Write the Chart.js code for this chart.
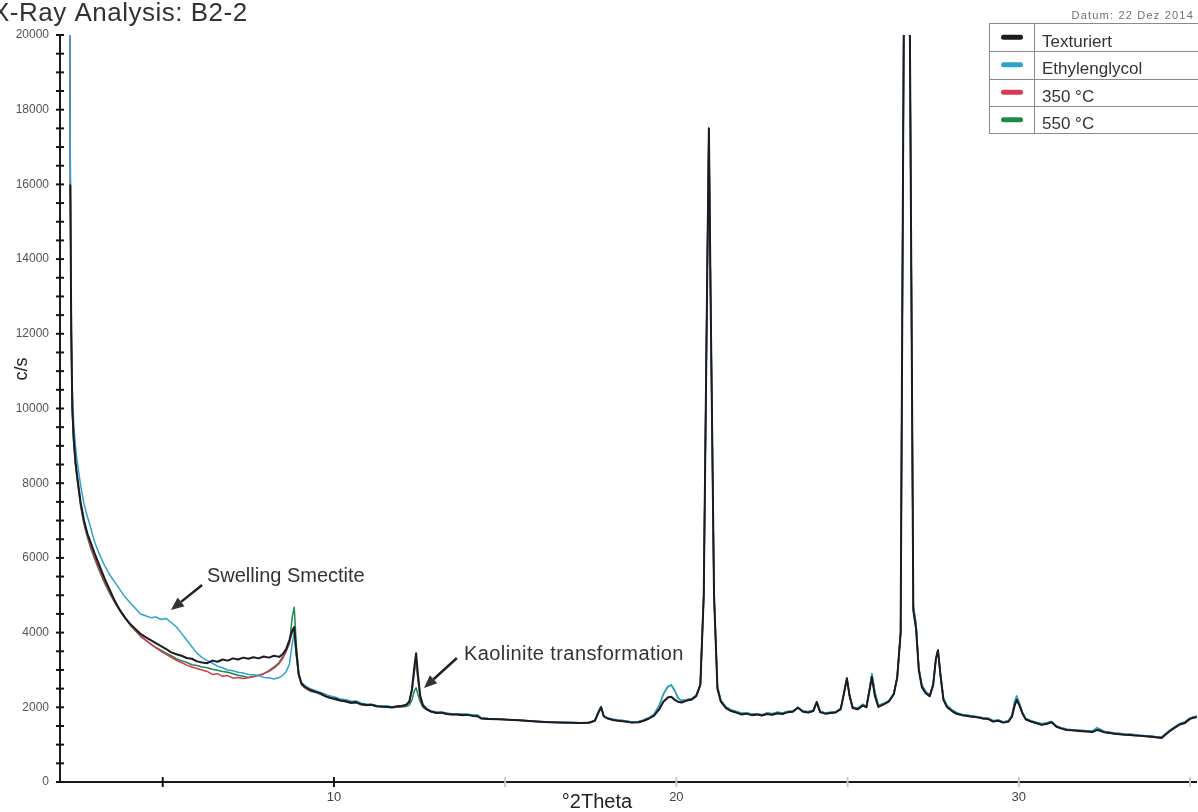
<!DOCTYPE html>
<html>
<head>
<meta charset="utf-8">
<title>X-Ray Analysis: B2-2</title>
<script src="https://cdn.jsdelivr.net/npm/chart.js@4.4.1/dist/chart.umd.min.js"></script>
<style>
  html, body { margin: 0; padding: 0; background: #fff; }
  canvas { display: block; }
</style>
</head>
<body>
<canvas id="chart" width="1198" height="812"></canvas>
<script>
// °2Theta grid for the low-angle part, where the four treatments differ
const thetaLow = [
  2.28, 2.3, 2.33, 2.36, 2.4, 2.45, 2.5, 2.6, 2.7, 2.8,
  2.9, 3.0, 3.15, 3.3, 3.45, 3.6, 3.75, 3.9, 4.05, 4.2,
  4.35, 4.5, 4.65, 4.8, 4.95, 5.1, 5.25, 5.4, 5.55, 5.7,
  5.85, 6.0, 6.15, 6.3, 6.45, 6.6, 6.75, 6.9, 7.05, 7.2,
  7.35, 7.5, 7.65, 7.8, 7.95, 8.1, 8.25, 8.4, 8.5, 8.6,
  8.7, 8.78, 8.84, 8.9, 8.97, 9.05, 9.15, 9.3, 9.45, 9.6,
  9.75, 9.9, 10.05, 10.2, 10.35, 10.5, 10.65, 10.8, 10.95, 11.1,
  11.25, 11.4, 11.55, 11.7, 11.85, 12.0, 12.1, 12.2, 12.28, 12.35,
  12.4, 12.45, 12.52, 12.6, 12.7, 12.85, 13.0, 13.15, 13.3, 13.45
];
const texturiertLow = [
  null, 16000, 12000, 10000, 9200, 8600, 8200, 7500, 7000, 6650,
  6400, 6150, 5800, 5450, 5150, 4850, 4600, 4400, 4230, 4100,
  3970, 3880, 3800, 3720, 3640, 3560, 3470, 3420, 3380, 3320,
  3300, 3230, 3200, 3180, 3250, 3220, 3280, 3250, 3310, 3280,
  3330, 3300, 3340, 3310, 3360, 3330, 3380, 3350, 3420, 3550,
  3800, 4050, 4150, 3500, 2900, 2650, 2550, 2470, 2420, 2380,
  2300, 2250, 2230, 2180, 2160, 2120, 2140, 2080, 2060, 2070,
  2030, 2020, 2010, 2000, 2030, 2040, 2060, 2150, 2500, 3100,
  3450, 2900, 2300, 2050, 1950, 1880, 1850, 1860, 1820, 1810
];
const glycolLow = [
  21000, 17000, 12500, 10500, 9600, 9000, 8600, 7950, 7450, 7100,
  6800, 6450, 6100, 5800, 5550, 5350, 5150, 4950, 4800, 4650,
  4500, 4450, 4400, 4420, 4350, 4380, 4270, 4150, 3980, 3800,
  3620, 3450, 3330, 3250, 3180, 3100, 3060, 3000, 2980, 2940,
  2920, 2880, 2870, 2850, 2800, 2790, 2760, 2800, 2850, 2950,
  3150, 3700, 4000, 3400, 2850, 2650, 2580, 2500, 2450, 2400,
  2350, 2300, 2270, 2220, 2200, 2160, 2170, 2110, 2090, 2080,
  2050, 2030, 2040, 2010, 2020, 2050, 2070, 2150, 2450, 3000,
  3300, 2850, 2300, 2080, 1980, 1900, 1880, 1870, 1850, 1830
];
const c350Low = [
  21000, 16200, 11900, 9950, 9150, 8550, 8150, 7450, 6950, 6600,
  6300, 6050, 5700, 5380, 5080, 4820, 4600, 4400, 4220, 4060,
  3920, 3800, 3690, 3590, 3500, 3420, 3340, 3260, 3200, 3130,
  3080, 3040, 3000, 2960, 2880, 2900, 2830, 2850, 2780, 2800,
  2770, 2790, 2820, 2860, 2900, 2960, 3050, 3170, 3300, 3480,
  3750, 4000, 4070, 3450, 2850, 2620, 2530, 2450, 2410, 2360,
  2300, 2260, 2210, 2180, 2150, 2120, 2130, 2080, 2060, 2060,
  2030, 2020, 2010, 2000, 2010, 2030, 2050, 2130, 2450, 2950,
  3200, 2750, 2250, 2030, 1950, 1880, 1850, 1850, 1820, 1810
];
const c550Low = [
  21000, 16500, 11800, 9900, 9100, 8500, 8100, 7400, 6900, 6550,
  6250, 6000, 5650, 5330, 5050, 4800, 4580, 4380, 4200, 4050,
  3900, 3800, 3700, 3600, 3530, 3450, 3380, 3300, 3250, 3200,
  3140, 3120, 3080, 3060, 3020, 2990, 2960, 2940, 2900, 2860,
  2830, 2800, 2830, 2850, 2900, 2980, 3080, 3200, 3350, 3500,
  3700, 4400, 4680, 3700, 2900, 2600, 2520, 2430, 2400, 2350,
  2290, 2250, 2200, 2170, 2150, 2110, 2120, 2070, 2050, 2060,
  2020, 2010, 2000, 1990, 2000, 2010, 2020, 2060, 2200, 2450,
  2520, 2350, 2150, 2000, 1940, 1880, 1850, 1850, 1820, 1810
];

// °2Theta grid for the high-angle part, where the curves lie on top of each other
const thetaHigh = [
  13.6, 13.75, 13.9, 14.05, 14.2, 14.3, 14.5, 14.8, 15.1, 15.4,
  15.7, 16.0, 16.3, 16.6, 16.9, 17.2, 17.45, 17.62, 17.72, 17.8,
  17.88, 18.0, 18.15, 18.3, 18.5, 18.7, 18.9, 19.05, 19.2, 19.35,
  19.5, 19.62, 19.75, 19.85, 19.95, 20.05, 20.15, 20.3, 20.45, 20.58,
  20.7, 20.8, 20.9, 20.95, 21.0, 21.1, 21.2, 21.3, 21.45, 21.6,
  21.75, 21.9, 22.05, 22.2, 22.35, 22.5, 22.65, 22.8, 22.95, 23.1,
  23.25, 23.4, 23.55, 23.7, 23.85, 24.0, 24.1, 24.2, 24.35, 24.5,
  24.65, 24.8, 24.9, 24.98, 25.06, 25.15, 25.3, 25.45, 25.55, 25.65,
  25.71, 25.8, 25.9, 26.05, 26.2, 26.35, 26.45, 26.55, 26.64, 26.73,
  26.82, 26.92, 27.0, 27.08, 27.17, 27.28, 27.4, 27.5, 27.58, 27.64,
  27.72, 27.8, 27.9, 28.05, 28.2, 28.35, 28.5, 28.65, 28.8, 28.95,
  29.1, 29.25, 29.4, 29.55, 29.7, 29.8, 29.88, 29.94, 30.02, 30.1,
  30.2, 30.35, 30.5, 30.67, 30.82, 30.96, 31.1, 31.25, 31.4, 31.55,
  31.7, 31.85, 32.0, 32.15, 32.28, 32.36, 32.5, 32.65, 32.8, 32.95,
  33.1, 33.25, 33.4, 33.55, 33.7, 33.85, 34.0, 34.17, 34.3, 34.45,
  34.58, 34.7, 34.85, 35.0, 35.1, 35.2
];
const texturiertHigh = [
  1810, 1790, 1800, 1770, 1760, 1700, 1690, 1680, 1665, 1650,
  1635, 1615, 1600, 1590, 1585, 1580, 1585, 1640, 1850, 2000,
  1760, 1700, 1660, 1640, 1620, 1590, 1600, 1640, 1700, 1780,
  1950, 2150, 2260, 2280, 2200, 2150, 2130, 2180, 2210, 2300,
  2600, 5000, 13500, 17500, 13000, 5000, 2500, 2150, 1980, 1900,
  1860, 1810, 1830, 1790, 1810, 1780, 1820, 1800, 1840, 1820,
  1870, 1880, 1990, 1880, 1860, 1900, 2140, 1870, 1830, 1850,
  1860, 1950, 2400, 2780, 2300, 1980, 1950, 2050, 2000, 2500,
  2810, 2300, 2010, 2080, 2150, 2350, 2800, 4000, 20000, 45000,
  20000, 4600, 4100, 3000, 2540, 2380, 2300, 2600, 3300, 3530,
  2800, 2200, 2010, 1900, 1820, 1790, 1770, 1750, 1730, 1700,
  1690, 1620, 1640, 1590, 1620, 1750, 2050, 2200, 2050, 1850,
  1680, 1620, 1580, 1530, 1560, 1600, 1480, 1430, 1390, 1385,
  1370, 1360, 1350, 1340, 1390, 1380, 1330, 1310, 1290, 1280,
  1265, 1260, 1245, 1235, 1225, 1210, 1195, 1180, 1280, 1390,
  1470, 1540, 1580, 1690, 1720, 1740
];
const glycolHigh = [
  1830, 1820, 1810, 1800, 1790, 1720, 1700, 1690, 1670, 1655,
  1640, 1620, 1605, 1595, 1590, 1585, 1590, 1650, 1870, 2020,
  1770, 1710, 1680, 1660, 1640, 1610, 1620, 1660, 1720, 1820,
  2050, 2350, 2550, 2600, 2450, 2250, 2180, 2200, 2230, 2320,
  2600, 5000, 13500, 17500, 13000, 5000, 2550, 2180, 2010, 1930,
  1890, 1840, 1850, 1820, 1830, 1800, 1850, 1830, 1870, 1850,
  1890, 1900, 2000, 1900, 1880, 1920, 2150, 1890, 1850, 1870,
  1880, 1970, 2400, 2750, 2300, 2000, 1980, 2080, 2020, 2550,
  2900, 2400, 2050, 2100, 2170, 2370, 2800, 4000, 20000, 45000,
  20000, 4700, 4250, 3050, 2600, 2420, 2330, 2620, 3300, 3500,
  2820, 2250, 2050, 1930, 1850, 1810, 1790, 1770, 1750, 1720,
  1710, 1640, 1660, 1610, 1640, 1780, 2150, 2300, 2100, 1880,
  1700, 1640, 1600, 1560, 1580, 1620, 1500, 1450, 1410, 1400,
  1390, 1380, 1370, 1360, 1450, 1420, 1350, 1330, 1310, 1300,
  1285, 1280, 1265, 1250, 1240, 1230, 1210, 1200, 1300, 1410,
  1490, 1560, 1610, 1710, 1740, 1760
];

const seriesNames = ["Texturiert", "Ethylenglycol", "350 °C", "550 °C"];
const seriesColors = ["#1b1b22", "#2da3d2", "#d63a52", "#1d8a4b"];

const notes = [
  { text: "Swelling Smectite", at: [6.29, 5355], tail: [6.15, 5275], tip: [5.24, 4605] },
  { text: "Kaolinite transformation", at: [13.8, 3265], tail: [13.59, 3320], tip: [12.63, 2515] }
];

const FONT = "'Liberation Sans', Arial, Helvetica, sans-serif";
Chart.defaults.font.family = FONT;

function points(xs, ys) {
  return xs.map((x, i) => ({ x, y: ys[i] }));
}

function arrow(ctx, x1, y1, x2, y2) {
  const a = Math.atan2(y2 - y1, x2 - x1);
  const head = 13, w = 5.5;
  const bx = x2 - head * Math.cos(a), by = y2 - head * Math.sin(a);
  ctx.beginPath();
  ctx.moveTo(x1, y1);
  ctx.lineTo(bx, by);
  ctx.stroke();
  ctx.beginPath();
  ctx.moveTo(x2, y2);
  ctx.lineTo(bx + w * Math.sin(a), by - w * Math.cos(a));
  ctx.lineTo(bx - w * Math.sin(a), by + w * Math.cos(a));
  ctx.closePath();
  ctx.fill();
}

// axis ticks that cross the axis, titles, notes and the boxed legend
const decor = {
  id: "decor",
  afterDraw(chart) {
    const { ctx, chartArea: area } = chart;
    const x = chart.scales.x, y = chart.scales.y;
    ctx.save();

    ctx.lineWidth = 2;
    ctx.strokeStyle = "#151515";
    y.ticks.forEach(t => {
      const py = y.getPixelForValue(t.value);
      ctx.beginPath();
      ctx.moveTo(area.left - 4, py);
      ctx.lineTo(area.left + 4, py);
      ctx.stroke();
    });
    x.ticks.forEach(t => {
      const px = x.getPixelForValue(t.value);
      ctx.strokeStyle = t.value < 15 ? "#151515" : "#c8c8c8";
      ctx.beginPath();
      ctx.moveTo(px, area.bottom - 5);
      ctx.lineTo(px, area.bottom + 5);
      ctx.stroke();
    });

    // title and date
    ctx.fillStyle = "#333";
    ctx.textBaseline = "alphabetic";
    ctx.textAlign = "left";
    ctx.font = "26px " + FONT;
    ctx.letterSpacing = "0.5px";
    ctx.fillText("X-Ray Analysis: B2-2", -8, 21);
    ctx.fillStyle = "#707070";
    ctx.font = "11px " + FONT;
    ctx.letterSpacing = "1.2px";
    ctx.textAlign = "right";
    ctx.fillText("Datum: 22 Dez 2014", 1194, 19);
    ctx.letterSpacing = "0px";

    // axis titles
    ctx.fillStyle = "#222";
    ctx.textAlign = "center";
    ctx.font = "20px " + FONT;
    ctx.fillText("°2Theta", 597, 808);
    ctx.save();
    ctx.translate(27, 369);
    ctx.rotate(-Math.PI / 2);
    ctx.font = "18px " + FONT;
    ctx.fillText("c/s", 0, 0);
    ctx.restore();

    // notes with arrows
    ctx.font = "20px " + FONT;
    ctx.textAlign = "left";
    ctx.fillStyle = "#333";
    ctx.strokeStyle = "#222";
    ctx.lineWidth = 2.5;
    notes.forEach((n, i) => {
      ctx.letterSpacing = i === 1 ? "0.4px" : "0px";
      ctx.fillText(n.text, x.getPixelForValue(n.at[0]), y.getPixelForValue(n.at[1]));
      arrow(ctx,
        x.getPixelForValue(n.tail[0]), y.getPixelForValue(n.tail[1]),
        x.getPixelForValue(n.tip[0]), y.getPixelForValue(n.tip[1]));
    });
    ctx.letterSpacing = "0px";

    // legend table
    const left = 989, top = 23.5, rowH = 27.5, divider = 1034.5, right = 1210;
    const ds = chart.data.datasets;
    ctx.fillStyle = "#fff";
    ctx.fillRect(left, top, right - left, rowH * ds.length);
    ctx.strokeStyle = "#8a8a8a";
    ctx.lineWidth = 1;
    ctx.strokeRect(left + 0.5, top, right - left, rowH * ds.length);
    ctx.beginPath();
    ctx.moveTo(divider, top);
    ctx.lineTo(divider, top + rowH * ds.length);
    for (let i = 1; i < ds.length; i++) {
      ctx.moveTo(left, Math.round(top + i * rowH) + 0.5);
      ctx.lineTo(right, Math.round(top + i * rowH) + 0.5);
    }
    ctx.stroke();
    ctx.font = "17px " + FONT;
    ds.forEach((d, i) => {
      const rt = top + i * rowH;
      ctx.fillStyle = d.borderColor;
      ctx.beginPath();
      ctx.roundRect(1001, rt + rowH / 2 - 2.5, 22, 5, 2.5);
      ctx.fill();
      ctx.fillStyle = "#333";
      ctx.fillText(d.label, 1042, rt + 23);
    });

    ctx.restore();
  }
};

new Chart(document.getElementById("chart"), {
  type: "line",
  data: {
    datasets: [
      {
        label: seriesNames[0],
        data: points(thetaLow, texturiertLow).concat(points(thetaHigh, texturiertHigh)),
        borderColor: seriesColors[0],
        borderWidth: 2
      },
      {
        label: seriesNames[1],
        data: points(thetaLow, glycolLow).concat(points(thetaHigh, glycolHigh)),
        borderColor: seriesColors[1],
        borderWidth: 1.5
      },
      {
        label: seriesNames[2],
        data: points(thetaLow, c350Low).concat(points(thetaHigh, texturiertHigh)),
        borderColor: seriesColors[2],
        borderWidth: 1.5
      },
      {
        label: seriesNames[3],
        data: points(thetaLow, c550Low).concat(points(thetaHigh, glycolHigh)),
        borderColor: seriesColors[3],
        borderWidth: 1.5
      }
    ]
  },
  options: {
    responsive: false,
    animation: false,
    layout: { padding: { top: 35, right: 0, bottom: 0, left: 0 } },
    elements: {
      point: { radius: 0 },
      line: { tension: 0, borderJoinStyle: "round", fill: false }
    },
    plugins: {
      legend: { display: false },
      title: { display: false },
      tooltip: { enabled: false }
    },
    scales: {
      x: {
        type: "linear",
        min: 2,
        max: 35.2,
        afterFit: s => { s.height = 30; },
        grid: { display: false, drawTicks: false },
        border: { display: true, color: "#1a1a1a", width: 2 },
        ticks: {
          stepSize: 5,
          includeBounds: false,
          autoSkip: false,
          maxRotation: 0,
          padding: 8,
          color: "#444",
          font: { size: 13 },
          callback: v => (v % 10 === 0 ? v : "")
        }
      },
      y: {
        min: 0,
        max: 20000,
        afterFit: s => { s.width = 60; },
        grid: { display: false, drawTicks: false },
        border: { display: true, color: "#1a1a1a", width: 2 },
        ticks: {
          stepSize: 500,
          autoSkip: false,
          padding: 11,
          color: "#555",
          font: { size: 12 },
          callback: v => (v % 2000 === 0 ? v : "")
        }
      }
    }
  },
  plugins: [decor]
});
</script>
</body>
</html>
